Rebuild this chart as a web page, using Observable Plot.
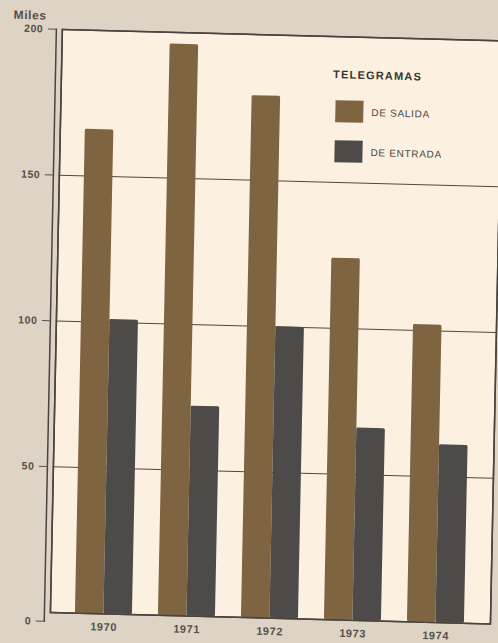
<!DOCTYPE html>
<html>
<head>
<meta charset="utf-8">
<script src="https://cdn.jsdelivr.net/npm/d3@7"></script>
<script src="https://cdn.jsdelivr.net/npm/@observablehq/plot@0.6"></script>
<style>
  html, body { margin: 0; padding: 0; background: #ddd4c6; overflow: hidden; }
  #wrap {
    position: relative; width: 498px; height: 643px;
    transform: matrix(1, 0.026, -0.0205, 1, 0, 0);
    transform-origin: 249px 321px;
  }
  #legend {
    position: absolute; left: 328px; top: 65px;
    font-family: "Liberation Sans", Arial, sans-serif; color: #3f3a35;
  }
  #legend .ttl { font-weight: bold; font-size: 11px; letter-spacing: 1.2px; line-height: 14px; margin-bottom: 19px; color: #3a342f; }
  #legend .lg-swatches { margin-left: 3px; font-family: "Liberation Sans", Arial, sans-serif; font-size: 10px; letter-spacing: 0.7px; color: #4a443e; margin-bottom: 0; }
  #legend .lg-swatch { padding-bottom: 18px; }
  #legend .lg-swatch > svg { margin-right: 8px; }
</style>
</head>
<body>
<div id="wrap"><div id="chart"></div><div id="legend"></div></div>
<script>
const years = ["1970", "1971", "1972", "1973", "1974"];
const salida = [166, 196, 179, 124, 102];
const entrada = [101, 72, 100, 66, 61];
const yTicks = [0, 50, 100, 150, 200];
const seriesNames = ["DE SALIDA", "DE ENTRADA"];
const seriesColors = ["#7e6441", "#4d4a4a"];
const legendTitle = "TELEGRAMAS";
const unitLabel = "Miles";

const rowsSalida = years.map((y, i) => ({year: y, serie: seriesNames[0], value: salida[i]}));
const rowsEntrada = years.map((y, i) => ({year: y, serie: seriesNames[1], value: entrada[i]}));

const ink = "#4a4440";
const textInk = "#56504a";

const chart = Plot.plot({
  width: 498,
  height: 643,
  marginLeft: 56,
  marginRight: 2,
  marginTop: 34,
  marginBottom: 26,
  style: {background: "none", overflow: "visible", fontFamily: "'Liberation Sans', Arial, sans-serif", letterSpacing: "0.6px"},
  x: {domain: years, paddingInner: 0.309, paddingOuter: 0.3},
  y: {domain: [0, 200]},
  color: {domain: seriesNames, range: seriesColors},
  marks: [
    Plot.frame({fill: "#fcf1e0", stroke: ink, strokeWidth: 1.5}),
    Plot.gridY(yTicks.filter(t => t > 0 && t < 200), {stroke: "#54473a", strokeOpacity: 1, strokeWidth: 1}),
    Plot.barY(rowsSalida, {x: "year", y: "value", fill: "serie", insetRight: 28.5, rx: 1.5}),
    Plot.barY(rowsEntrada, {x: "year", y: "value", fill: "serie", insetLeft: 28.5, rx: 1.5}),
    Plot.frame({anchor: "left", dx: -6, insetBottom: -9, stroke: ink, strokeWidth: 1.5}),
    Plot.axisY(yTicks.filter(t => t > 0), {tickSize: 8, tickPadding: 5, dx: -6, label: null, color: textInk, fontWeight: "bold", fontSize: 10.5}),
    Plot.axisY([yTicks[0]], {tickSize: 8, tickPadding: 5, dx: -6, dy: 9, label: null, color: textInk, fontWeight: "bold", fontSize: 10.5}),
    Plot.axisX({tickSize: 0, tickPadding: 9, label: null, color: textInk, fontWeight: "bold", fontSize: 11}),
    Plot.frame({stroke: ink, strokeWidth: 1.5}),
    Plot.text([unitLabel], {text: d => d, frameAnchor: "top-left", dx: -49, dy: -18, textAnchor: "start", fontWeight: "bold", fontSize: 12, fill: textInk})
  ]
});
document.getElementById("chart").appendChild(chart);

const legend = document.getElementById("legend");
const ttl = document.createElement("div");
ttl.className = "ttl";
ttl.textContent = legendTitle;
legend.appendChild(ttl);
legend.appendChild(Plot.legend({
  color: {domain: seriesNames, range: seriesColors},
  columns: 1,
  className: "lg",
  swatchWidth: 28,
  swatchHeight: 22
}));
</script>
</body>
</html>
